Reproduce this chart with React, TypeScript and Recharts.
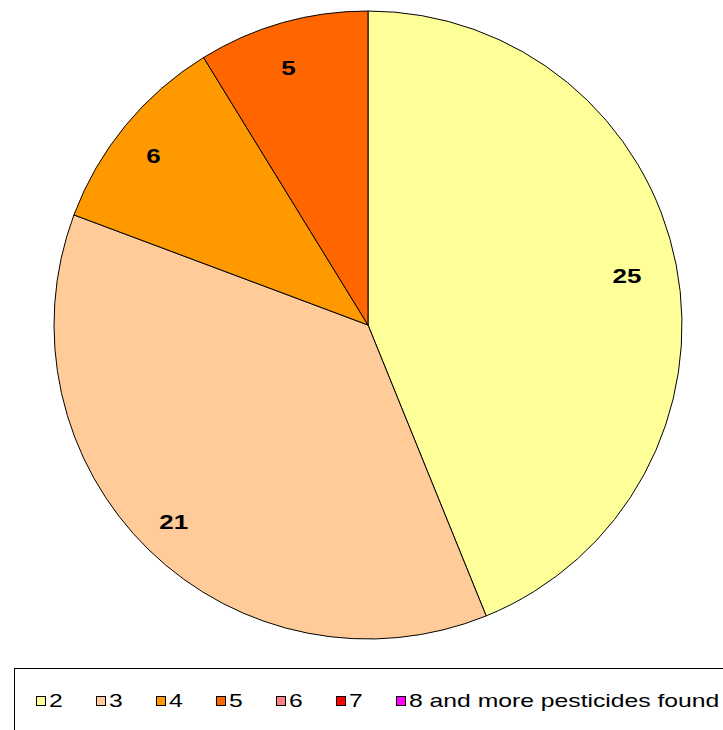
import React from "react"
import { Legend, Pie, PieChart, Cell } from "recharts"

const categories = ["2", "3", "4", "5", "6", "7", "8 and more pesticides found"]
const counts = [25, 21, 6, 5, 0, 0, 0]
const colors = ["#FFFF99", "#FFCC99", "#FF9900", "#FF6600", "#FF8080", "#FF0000", "#FF00FF"]

const slices = categories
  .map((name, i) => ({ name, value: counts[i], color: colors[i] }))
  .filter((d) => d.value > 0)

const RADIAN = Math.PI / 180

function SliceLabel(props: any) {
  const { cx, cy, midAngle, outerRadius, value } = props
  const r = outerRadius * 0.86
  const x = cx + r * Math.cos(-midAngle * RADIAN) - 6
  const y = cy + r * Math.sin(-midAngle * RADIAN)
  // labels are drawn a bit wide, like the old spreadsheet font
  return (
    <text
      transform={`translate(${x},${y}) scale(1.3,1)`}
      textAnchor="middle"
      dy={10}
      fontFamily="Liberation Sans, Arial, sans-serif"
      fontWeight="bold"
      fontSize={20}
      fill="#000"
    >
      {value}
    </text>
  )
}

function LegendBox() {
  return (
    <div
      style={{
        boxSizing: "border-box",
        width: 730,
        height: 80,
        border: "1px solid #000",
        background: "#fff",
        display: "flex",
        alignItems: "center",
        paddingLeft: 21,
        paddingBottom: 14,
        fontFamily: "Liberation Sans, Arial, sans-serif",
        fontSize: 19,
        color: "#000",
        whiteSpace: "nowrap",
      }}
    >
      {categories.map((c, i) => (
        <div
          key={c}
          style={{
            display: "flex",
            alignItems: "center",
            width: i < categories.length - 1 ? 60 : undefined,
            flexShrink: 0,
          }}
        >
          <span
            style={{
              display: "inline-block",
              width: 8,
              height: 8,
              border: "1px solid #000",
              background: colors[i],
              marginRight: 3,
            }}
          />
          <span style={{ display: "inline-block", transform: "scaleX(1.3)", transformOrigin: "left center" }}>{c}</span>
        </div>
      ))}
    </div>
  )
}

export default function App() {
  return (
    <div style={{ position: "absolute", left: 0, top: 0, width: 723, height: 730, overflow: "hidden", background: "#fff" }}>
      <PieChart width={723} height={730} margin={{ top: 0, right: 0, bottom: 0, left: 0 }}>
        <Pie
          data={slices}
          dataKey="value"
          nameKey="name"
          cx={368}
          cy={325}
          outerRadius={314}
          startAngle={90}
          endAngle={-270}
          stroke="#000"
          strokeWidth={1}
          label={SliceLabel}
          labelLine={false}
          isAnimationActive={false}
        >
          {slices.map((d) => (
            <Cell key={d.name} fill={d.color} />
          ))}
        </Pie>
        <Legend
          content={() => <LegendBox />}
          wrapperStyle={{ position: "absolute", left: 14, top: 668, width: 730 }}
        />
      </PieChart>
    </div>
  )
}
